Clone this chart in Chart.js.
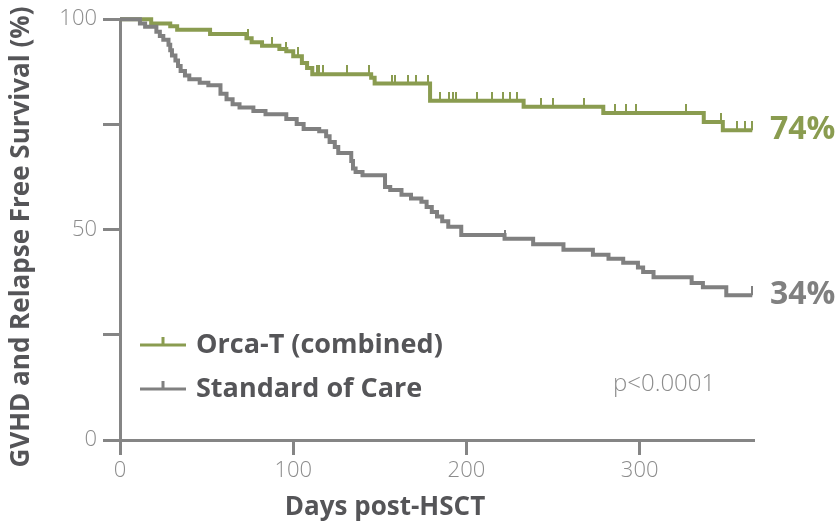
<!DOCTYPE html>
<html>
<head>
<meta charset="utf-8">
<script src="https://cdn.jsdelivr.net/npm/chart.js@4.4.1/dist/chart.umd.min.js"></script>
<style>
  body { margin: 0; background: #fff; }
</style>
</head>
<body>
<canvas id="grfs-chart" width="840" height="526"></canvas>
<script>
// Kaplan-Meier step data: day of event and survival (%) from that day on
var orcaDays = [0, 18, 29, 33, 52, 73, 76, 82, 92, 96, 100, 105, 108, 111, 145, 147, 179, 233, 279, 337, 348];
var orcaSurvival = [100, 99.0, 98.3, 97.5, 96.5, 95.5, 94.5, 93.7, 92.9, 92.4, 91.2, 89.6, 88.4, 86.9, 86.1, 84.7, 80.6, 79.2, 77.7, 75.6, 73.6];
var orcaCensored = [74, 88, 96, 103, 114, 115, 117, 131, 144, 157, 159, 166, 171, 178, 185, 190, 192, 194, 206, 215, 221, 225, 229, 243, 250, 268, 286, 292, 298, 327, 347, 356, 361, 365];

var socDays = [0, 11.5, 14.5, 21, 23, 25, 28, 29, 30, 32, 33.5, 35, 37.5, 40, 46, 51, 58, 61.5, 65, 69, 77, 84, 96, 102, 106, 115, 119, 121, 124, 126, 133.5, 134.5, 136, 140, 153, 156, 162.5, 168, 174, 177, 180, 183, 186, 189.5, 197, 222, 238.5, 256, 273, 282, 290.5, 299, 302, 308, 330, 336.5, 350];
var socSurvival = [100, 99.0, 98.2, 97.0, 96.0, 95.1, 93.9, 92.6, 91.4, 90.2, 88.9, 87.7, 86.6, 85.7, 84.9, 84.3, 82.3, 81.0, 79.8, 79.0, 78.2, 77.4, 76.3, 75.1, 73.9, 73.4, 72.2, 70.8, 69.6, 68.2, 66.3, 64.5, 63.7, 62.9, 60.1, 59.4, 58.3, 57.4, 56.6, 55.4, 54.2, 53.1, 52.0, 50.7, 48.7, 47.8, 46.5, 45.2, 44.0, 43.1, 42.1, 41.0, 39.9, 38.7, 37.3, 36.3, 34.4];
var socCensored = [222, 365];

var seriesNames = ['Orca-T (combined)', 'Standard of Care'];
var xTicks = [0, 100, 200, 300];
var yTicks = [0, 25, 50, 75, 100];
var yLabels = [0, 50, 100];
var followUp = 365;
var pValue = 'p<0.0001';

var green = '#8a9c50';
var grey = '#808080';
var axisGrey = '#858585';
var textDark = '#555558';
var textLight = '#8c8c8c';
var font = '"Open Sans", "DejaVu Sans", sans-serif';

function stepPoints(days, surv) {
  var pts = days.map(function(d, i) { return {x: d, y: surv[i]}; });
  pts.push({x: followUp, y: surv[surv.length - 1]});
  return pts;
}

function survivalAt(days, surv, t) {
  var s = surv[0];
  for (var i = 0; i < days.length; i++) {
    if (days[i] <= t) s = surv[i];
  }
  return s;
}

function censorPoints(cens, days, surv) {
  return cens.map(function(t) { return {x: t, y: survivalAt(days, surv, t)}; });
}

// small upward tick used for censored patients
function tickMark(color) {
  var c = document.createElement('canvas');
  c.width = 2;
  c.height = 18;
  var g = c.getContext('2d');
  g.fillStyle = color;
  g.fillRect(0, 0, 2, 9);
  return c;
}

var overlay = {
  id: 'overlay',
  afterDraw: function(chart) {
    var ctx = chart.ctx;
    var area = chart.chartArea;
    var y = chart.scales.y;
    ctx.save();

    // legend
    var rows = [
      {label: seriesNames[0], color: green, yPos: area.bottom - 95},
      {label: seriesNames[1], color: grey, yPos: area.bottom - 51}
    ];
    rows.forEach(function(r) {
      ctx.strokeStyle = r.color;
      ctx.lineWidth = 3;
      ctx.beginPath();
      ctx.moveTo(area.left + 20, r.yPos);
      ctx.lineTo(area.left + 66, r.yPos);
      ctx.moveTo(area.left + 43, r.yPos);
      ctx.lineTo(area.left + 43, r.yPos - 8);
      ctx.stroke();
      ctx.fillStyle = textDark;
      ctx.font = 'bold 27px ' + font;
      ctx.textBaseline = 'middle';
      ctx.textAlign = 'left';
      ctx.fillText(r.label, area.left + 76, r.yPos);
    });

    // p value
    ctx.fillStyle = textLight;
    ctx.font = '300 24px ' + font;
    ctx.fillText(pValue, area.left + 493, area.bottom - 56);

    // one-year estimates at the end of each curve
    var ends = [
      {v: orcaSurvival[orcaSurvival.length - 1], color: green},
      {v: socSurvival[socSurvival.length - 1], color: grey}
    ];
    ctx.font = 'bold 32px ' + font;
    ends.forEach(function(e) {
      ctx.fillStyle = e.color;
      ctx.fillText(Math.round(e.v) + '%', area.right + 16, y.getPixelForValue(e.v));
    });

    // axis titles
    ctx.fillStyle = textDark;
    ctx.font = 'bold 26px ' + font;
    ctx.textAlign = 'center';
    ctx.fillText('Days post-HSCT', 385, 508);
    ctx.translate(22, 237);
    ctx.rotate(-Math.PI / 2);
    ctx.fillText('GVHD and Relapse Free Survival (%)', 0, 0);
    ctx.restore();
  }
};

var ctx = document.getElementById('grfs-chart').getContext('2d');
new Chart(ctx, {
  type: 'scatter',
  data: {
    datasets: [
      {
        label: seriesNames[1],
        data: stepPoints(socDays, socSurvival),
        showLine: true,
        stepped: 'before',
        borderColor: grey,
        borderWidth: 4,
        pointRadius: 0,
        clip: false,
        order: 1
      },
      {
        label: seriesNames[1] + ' censored',
        data: censorPoints(socCensored, socDays, socSurvival),
        pointStyle: tickMark(grey),
        clip: false,
        order: 0
      },
      {
        label: seriesNames[0],
        data: stepPoints(orcaDays, orcaSurvival),
        showLine: true,
        stepped: 'before',
        borderColor: green,
        borderWidth: 4,
        pointRadius: 0,
        clip: false,
        order: 3
      },
      {
        label: seriesNames[0] + ' censored',
        data: censorPoints(orcaCensored, orcaDays, orcaSurvival),
        pointStyle: tickMark(green),
        clip: false,
        order: 2
      }
    ]
  },
  options: {
    responsive: false,
    animation: false,
    devicePixelRatio: 1,
    layout: { padding: { top: 16, right: 86, left: 0, bottom: 0 } },
    plugins: {
      legend: { display: false },
      tooltip: { enabled: false }
    },
    scales: {
      x: {
        type: 'linear',
        min: 0,
        max: 366,
        afterBuildTicks: function(scale) {
          scale.ticks = xTicks.map(function(v) { return {value: v}; });
        },
        afterFit: function(scale) { scale.height = 86; },
        grid: { drawOnChartArea: false, drawTicks: true, tickLength: 15, tickWidth: 3, tickColor: axisGrey },
        border: { display: true, color: axisGrey, width: 3 },
        ticks: { color: textLight, padding: 3, font: { family: font, size: 22, weight: '300' } }
      },
      y: {
        type: 'linear',
        min: 0,
        max: 100,
        afterBuildTicks: function(scale) {
          scale.ticks = yTicks.map(function(v) { return {value: v}; });
        },
        afterFit: function(scale) { scale.width = 120; },
        grid: { drawOnChartArea: false, drawTicks: true, tickLength: 17, tickWidth: 3, tickColor: axisGrey },
        border: { display: true, color: axisGrey, width: 3 },
        ticks: {
          color: textLight,
          padding: 6,
          font: { family: font, size: 22, weight: '300' },
          callback: function(v) { return yLabels.indexOf(v) >= 0 ? v : ''; }
        }
      }
    }
  },
  plugins: [overlay]
});
</script>
</body>
</html>
